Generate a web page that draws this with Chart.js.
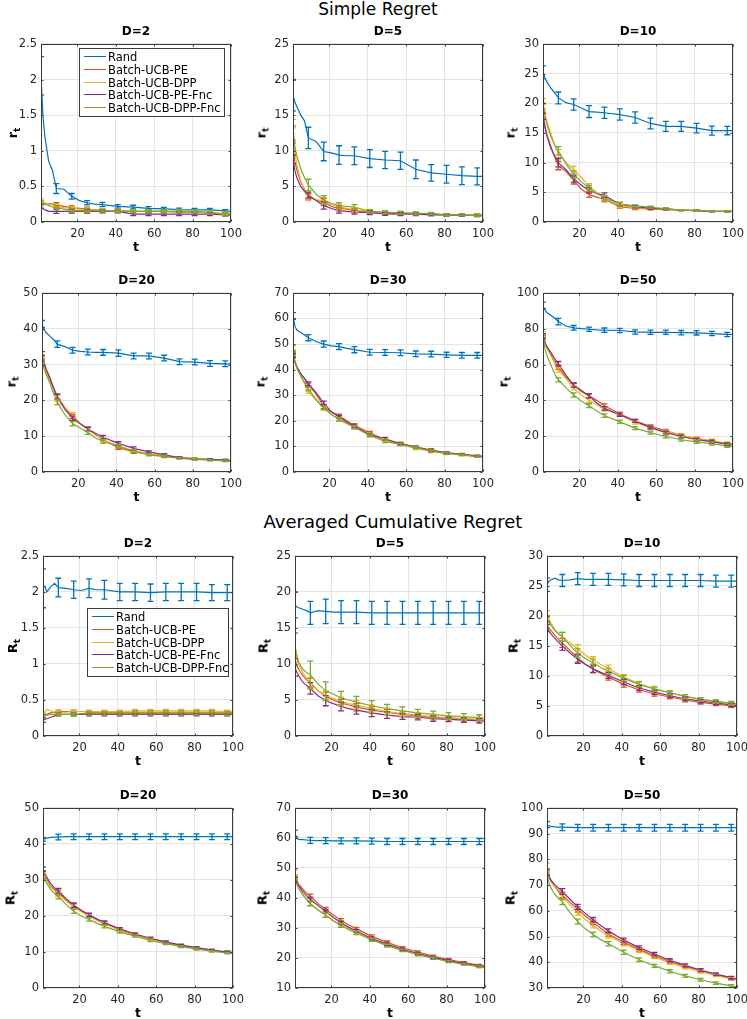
<!DOCTYPE html>
<html><head><meta charset="utf-8">
<script src="https://cdn.jsdelivr.net/npm/chart.js@4.4.1/dist/chart.umd.min.js"></script>
<style>
html,body{margin:0;padding:0;background:#fff;}
#fig{position:relative;width:747px;height:1019px;overflow:hidden;font-family:'DejaVu Sans',sans-serif;color:#000;}
.abs{position:absolute;white-space:nowrap;}
.ptitle{font-weight:bold;font-size:12px;line-height:12px;transform:translateX(-50%);}
.xlab{font-weight:bold;font-size:12.5px;line-height:12px;transform:translateX(-50%);}
.ylab{font-weight:bold;font-size:13px;line-height:13px;transform:translate(-50%,-50%) rotate(-90deg);}
.ylab sub{font-size:9px;vertical-align:-3px;line-height:0;}
.legend{position:absolute;background:#fff;border:1px solid #3c3c3c;box-sizing:border-box;font-size:11.5px;}
.lrow{position:absolute;left:4px;height:12px;line-height:12px;white-space:nowrap;}
.lline{display:inline-block;width:22px;height:0;border-top:1.3px solid;vertical-align:middle;margin-right:2px;position:relative;top:-1px;}
</style></head><body><div id="fig"></div>
<script>
// ---------------- data ----------------
const SERIES_NAMES = ['Rand','Batch-UCB-PE','Batch-UCB-DPP','Batch-UCB-PE-Fnc','Batch-UCB-DPP-Fnc'];
const T      = [1,2,3,5,7,9,13,17,21,25,29,33,41,49,57,65,73,81,89,97,100];
const ERR_T  = [1,9,17,25,33,41,49,57,65,73,81,89,97];
const X_TICKS = [20,40,60,80,100];

// Simple regret, D=2
const sr2_yTicks = [0,0.5,1,1.5,2,2.5];
const sr2_rand  = [2.05,1.5,1.2,0.85,0.72,0.47,0.46,0.36,0.30,0.27,0.25,0.245,0.22,0.21,0.19,0.185,0.175,0.17,0.17,0.155,0.15];
const sr2_pe    = [0.27,0.27,0.26,0.26,0.25,0.24,0.22,0.20,0.19,0.18,0.17,0.16,0.16,0.15,0.15,0.15,0.14,0.14,0.13,0.11,0.10];
const sr2_dpp   = [0.29,0.28,0.27,0.25,0.24,0.22,0.20,0.19,0.18,0.17,0.17,0.16,0.16,0.15,0.15,0.15,0.15,0.14,0.13,0.12,0.12];
const sr2_pef   = [0.22,0.19,0.17,0.15,0.15,0.15,0.15,0.15,0.15,0.15,0.15,0.15,0.15,0.11,0.11,0.11,0.11,0.11,0.11,0.10,0.10];
const sr2_dppf  = [0.27,0.26,0.25,0.23,0.21,0.20,0.18,0.16,0.16,0.16,0.16,0.16,0.15,0.15,0.15,0.15,0.15,0.15,0.14,0.10,0.10];
const sr2_eRand = [0.27,0.07,0.04,0.03,0.03,0.025,0.025,0.025,0.02,0.02,0.02,0.02,0.02];
const sr2_eAlg  = [0.03,0.03,0.03,0.03,0.02,0.02,0.02,0.02,0.02,0.02,0.02,0.02,0.02];

// Simple regret, D=5
const sr5_yTicks = [0,5,10,15,20,25];
const sr5_rand  = [17.8,16.8,16.2,15.0,14.2,11.8,11.3,9.9,9.7,9.4,9.3,9.3,8.9,8.7,8.6,7.4,6.9,6.7,6.5,6.4,6.4];
const sr5_pe    = [10.5,8.5,7.3,5.6,4.6,3.6,3.1,2.8,2.2,1.9,1.8,1.6,1.4,1.2,1.2,1.2,1.1,1.0,1.0,1.0,1.0];
const sr5_dpp   = [13.8,10.0,8.0,5.8,4.4,3.4,3.1,3.0,2.5,2.1,1.9,1.7,1.5,1.3,1.3,1.2,1.1,1.0,1.0,1.0,1.0];
const sr5_pef   = [8.8,7.2,6.2,5.0,4.3,3.8,3.0,2.3,1.9,1.6,1.5,1.4,1.3,1.15,1.1,1.1,1.0,1.0,0.95,0.9,0.9];
const sr5_dppf  = [12.5,10.5,9.3,7.5,6.2,5.2,3.9,3.1,2.6,2.3,2.2,2.1,1.5,1.4,1.3,1.2,1.2,1.0,1.0,0.9,0.9];
const sr5_eRand = [2.2,1.5,1.3,1.3,1.25,1.25,1.2,1.2,1.3,1.15,1.25,1.25,1.2];
const sr5_eAlg  = [0.6,0.4,0.5,0.35,0.3,0.25,0.2,0.2,0.2,0.15,0.15,0.15,0.15];
const sr5_eDppf = [1.0,0.8,0.6,0.4,0.35,0.25,0.2,0.2,0.2,0.15,0.15,0.15,0.15];

// Simple regret, D=10
const sr10_yTicks = [0,5,10,15,20,25,30];
const sr10_rand  = [25.2,24.3,23.6,22.6,21.8,20.9,20.1,19.8,19.2,18.6,18.5,18.4,18.1,17.6,16.6,16.1,16.1,15.8,15.4,15.4,15.4];
const sr10_pe    = [18.0,16.2,14.8,12.8,11.0,9.5,8.5,7.0,5.5,4.6,4.2,3.8,2.6,2.3,2.2,2.1,2.0,1.9,1.8,1.8,1.8];
const sr10_dpp   = [20.3,18.3,17.0,15.0,13.0,11.5,10.0,8.8,7.5,6.0,5.0,4.0,2.7,2.4,2.2,2.2,2.0,1.9,1.8,1.8,1.8];
const sr10_pef   = [17.8,16.0,14.5,12.5,11.2,10.0,8.8,7.3,6.2,5.3,4.8,4.5,3.0,2.6,2.3,2.2,2.0,1.9,1.8,1.8,1.8];
const sr10_dppf  = [19.5,17.8,16.5,14.5,13.0,12.0,9.8,8.0,6.8,5.7,4.8,4.1,3.0,2.7,2.5,2.2,2.0,1.9,1.8,1.8,1.8];
const sr10_eRand = [1.1,1.0,0.95,1.0,0.95,0.95,0.95,0.9,0.85,0.85,0.8,0.75,0.7];
const sr10_eAlg  = [0.5,0.7,0.6,0.45,0.4,0.3,0.2,0.15,0.15,0.1,0.1,0.1,0.1];

// Simple regret, D=20
const sr20_yTicks = [0,10,20,30,40,50];
const sr20_rand  = [41.3,40.0,39.0,38.0,37.0,35.7,35.0,34.0,33.7,33.5,33.4,33.4,33.2,32.4,32.4,31.8,30.8,30.7,30.3,30.2,30.2];
const sr20_pe    = [32,30,28.5,26.0,23.5,21.0,18.0,15.5,13.5,12.0,10.5,9.0,6.8,5.6,5.0,4.4,4.0,3.7,3.5,3.3,3.2];
const sr20_dpp   = [31,29.5,28.0,25.5,23.0,20.5,18.0,16.0,13.5,11.8,10.3,9.0,7.3,6.0,5.1,4.6,4.0,3.8,3.4,3.2,3.1];
const sr20_pef   = [33,31,29,26.5,23.5,21.0,17.5,15.0,13.5,12.0,10.8,9.7,8.0,6.6,5.6,4.8,4.0,3.6,3.5,3.3,3.2];
const sr20_dppf  = [31,29,27.5,25.0,22.0,19.5,16.0,13.5,12.3,11.0,9.5,8.5,7.2,5.8,4.8,4.3,3.8,3.5,3.3,3.1,3.0];
const sr20_eRand = [1.0,0.9,0.8,0.8,0.8,0.9,0.8,0.8,0.8,0.8,0.8,0.8,0.8];
const sr20_eAlg  = [0.6,0.7,0.6,0.5,0.5,0.45,0.4,0.3,0.3,0.2,0.2,0.2,0.2];

// Simple regret, D=30
const sr30_yTicks = [0,10,20,30,40,50,60,70];
const sr30_rand  = [61,57,55.5,54.5,53.5,52.5,51.0,50.0,49.3,49.0,48.3,47.8,46.8,46.7,46.6,46.2,46.1,45.8,45.6,45.6,45.6];
const sr30_pe    = [46.5,43,41,38.5,36.5,34.0,30.5,25.5,23.5,22.0,20.0,18.3,15.3,12.5,11.2,9.7,8.7,7.5,7.0,6.3,6.2];
const sr30_dpp   = [48.5,44,41,37.5,34.5,31.5,28.0,25.0,22.5,20.5,19.0,17.5,14.8,12.5,10.8,9.2,8.0,7.2,6.6,6.0,5.9];
const sr30_pef   = [45.5,43,41,38.5,36.5,34.5,31.0,27.0,23.5,21.5,19.5,17.8,14.5,13.0,11.0,9.7,8.3,7.5,6.8,6.2,6.0];
const sr30_dppf  = [46,43,40.5,37.5,35.0,32.5,28.5,25.0,22.5,20.5,19.0,17.5,14.3,12.0,10.8,9.5,8.2,7.3,6.7,6.0,5.9];
const sr30_eRand = [1.3,1.2,1.2,1.2,1.2,1.1,1.1,1.1,1.1,1.1,1.0,1.1,1.1];
const sr30_eAlg  = [0.8,0.75,0.7,0.6,0.6,0.6,0.5,0.5,0.4,0.4,0.4,0.3,0.3];

// Simple regret, D=50
const sr50_yTicks = [0,20,40,60,80,100];
const sr50_rand  = [93,90.5,89,87.5,86,84,81.5,80.5,80.0,79.7,79.4,79.2,79.0,78.2,78.0,78.0,77.8,77.7,77.3,76.8,76.8];
const sr50_pe    = [76,72,70,66,62,58.5,53,48.5,45,42.5,40,37,32.5,28.5,25.5,23.0,20.5,18.5,17.0,15.5,15.2];
const sr50_dpp   = [77,72,69,65,61,57,52,47,43,40,37.5,35,32,27.5,25,22.5,20.5,18.8,17.5,16.0,15.7];
const sr50_pef   = [76,72.5,70,67,63.5,60.5,54,48.5,45.5,42.5,38.5,35.5,32,28.5,24.8,22.0,19.8,18.0,17.0,15.5,15.2];
const sr50_dppf  = [75,69,65,60,55,51.5,47,43,39.5,37,34,31.5,28,24.5,22,19.8,18,16.8,15.8,14.5,14.3];
const sr50_eRand = [1.8,1.8,1.3,1.2,1.2,1.2,1.2,1.2,1.2,1.2,1.2,1.2,1.2];
const sr50_eAlg  = [1.2,1.2,1.2,1.1,1.0,0.9,0.8,0.8,0.8,0.8,0.8,0.8,0.8];

// Averaged cumulative regret, D=2
const acr2_yTicks = [0,0.5,1,1.5,2,2.5];
const acr2_rand  = [2.05,2.08,2.0,2.07,2.12,2.06,2.05,2.03,2.02,2.05,2.03,2.03,2.0,2.0,1.99,2.0,2.0,2.0,1.99,1.99,1.99];
const acr2_pe    = [0.28,0.29,0.30,0.32,0.33,0.34,0.34,0.34,0.34,0.33,0.33,0.33,0.33,0.33,0.33,0.33,0.33,0.33,0.33,0.33,0.33];
const acr2_dpp   = [0.28,0.34,0.37,0.35,0.33,0.33,0.33,0.34,0.34,0.34,0.34,0.34,0.34,0.35,0.35,0.35,0.35,0.35,0.35,0.34,0.34];
const acr2_pef   = [0.22,0.23,0.24,0.26,0.28,0.30,0.30,0.30,0.30,0.30,0.30,0.30,0.30,0.30,0.30,0.30,0.30,0.30,0.30,0.30,0.30];
const acr2_dppf  = [0.27,0.28,0.29,0.30,0.30,0.30,0.30,0.30,0.31,0.31,0.31,0.31,0.31,0.31,0.31,0.31,0.31,0.31,0.31,0.31,0.31];
const acr2_eRand = [0.27,0.13,0.12,0.13,0.13,0.12,0.12,0.12,0.12,0.12,0.12,0.11,0.11];
const acr2_eAlg  = [0.03,0.02,0.02,0.02,0.02,0.02,0.02,0.02,0.02,0.02,0.02,0.02,0.02];

// Averaged cumulative regret, D=5
const acr5_yTicks = [0,5,10,15,20,25];
const acr5_rand  = [18.2,17.9,17.8,17.6,17.4,17.1,17.4,17.3,17.2,17.2,17.2,17.2,17.1,17.1,17.1,17.1,17.1,17.1,17.1,17.1,17.1];
const acr5_pe    = [10.5,9.8,9.2,8.4,7.8,7.4,6.3,5.5,5.0,4.6,4.3,4.0,3.6,3.3,3.0,2.8,2.6,2.5,2.35,2.25,2.2];
const acr5_dpp   = [12.8,11.0,10.0,8.8,8.0,7.3,6.3,5.6,5.2,4.8,4.5,4.3,3.8,3.4,3.1,2.9,2.7,2.55,2.4,2.3,2.25];
const acr5_pef   = [9.5,8.8,8.3,7.5,7.0,6.6,5.6,4.9,4.5,4.1,3.8,3.6,3.2,2.9,2.7,2.6,2.4,2.3,2.2,2.1,2.05];
const acr5_dppf  = [12.3,11.0,10.2,9.3,8.8,8.5,7.2,6.3,5.8,5.3,5.0,4.7,4.2,3.8,3.5,3.2,3.0,2.8,2.7,2.55,2.5];
const acr5_eRand = [1.8,1.6,1.7,1.6,1.6,1.6,1.6,1.6,1.6,1.6,1.6,1.6,1.6];
const acr5_ePe   = [0.8,0.6,0.6,0.5,0.5,0.45,0.4,0.35,0.35,0.3,0.3,0.3,0.3];
const acr5_eDpp  = [1.5,0.8,0.7,0.6,0.6,0.5,0.45,0.4,0.35,0.35,0.3,0.3,0.3];
const acr5_ePef  = [1.2,0.8,0.7,0.6,0.55,0.5,0.45,0.4,0.35,0.35,0.3,0.3,0.3];
const acr5_eDppf = [2.0,1.9,1.2,0.9,0.8,0.7,0.6,0.55,0.5,0.45,0.45,0.4,0.4];

// Averaged cumulative regret, D=10
const acr10_yTicks = [0,5,10,15,20,25,30];
const acr10_rand  = [25.2,25.8,26.0,26.3,26.0,25.9,26.0,26.2,26.1,26.1,26.1,26.1,26.0,25.9,25.9,25.9,25.9,25.9,25.8,25.8,25.8];
const acr10_pe    = [18.5,18.0,17.6,16.8,16.1,15.5,14.2,13.0,12.0,11.1,10.4,9.8,8.6,7.7,7.0,6.5,6.0,5.6,5.3,5.0,4.95];
const acr10_dpp   = [20.3,19.5,18.8,17.8,17.1,16.5,15.5,14.5,13.5,12.6,11.9,11.3,9.8,8.7,7.9,7.2,6.6,6.1,5.7,5.4,5.3];
const acr10_pef   = [18.0,17.5,17.0,16.3,15.6,15.0,13.8,12.8,11.9,11.2,10.6,10.1,9.0,8.0,7.3,6.7,6.2,5.8,5.5,5.2,5.1];
const acr10_dppf  = [19.5,19.0,18.5,17.6,17.0,16.5,15.1,13.8,12.9,12.2,11.4,10.8,9.6,8.6,7.8,7.2,6.6,6.1,5.8,5.5,5.4];
const acr10_eRand = [1.1,1.0,1.0,1.0,1.0,1.0,1.0,1.0,1.0,1.0,1.0,1.0,1.0];
const acr10_eAlg  = [0.6,0.75,0.7,0.6,0.5,0.45,0.4,0.35,0.3,0.3,0.3,0.25,0.25];

// Averaged cumulative regret, D=20
const acr20_yTicks = [0,10,20,30,40,50];
const acr20_rand  = [41.3,41.4,41.6,41.8,41.9,41.9,42.0,42.0,42.0,42.0,42.0,42.0,42.0,42.0,42.0,42.0,42.0,42.0,42.0,42.0,42.0];
const acr20_pe    = [32,31,30,28.3,27.3,26.5,24.5,22.8,21.4,20.2,19.0,18.0,16.2,14.8,13.6,12.6,11.8,11.1,10.5,10.0,9.9];
const acr20_dpp   = [31.5,30.6,29.7,28.0,27.0,26.0,24.2,22.5,21.1,20.0,18.8,17.8,16.0,14.6,13.5,12.5,11.7,11.0,10.4,9.9,9.8];
const acr20_pef   = [33,31.8,30.7,29.0,27.8,27.0,24.8,23.0,21.6,20.3,19.2,18.2,16.4,15.0,13.8,12.8,11.9,11.2,10.5,10.0,9.9];
const acr20_dppf  = [31,30,29,27.3,26.2,25.4,23.2,21.3,20.0,19.0,18.0,17.1,15.6,14.4,13.2,12.3,11.5,10.8,10.2,9.7,9.6];
const acr20_eRand = [0.5,0.8,0.8,0.8,0.8,0.8,0.8,0.8,0.8,0.8,0.8,0.8,0.8];
const acr20_eAlg  = [0.6,0.65,0.6,0.45,0.4,0.35,0.3,0.3,0.25,0.25,0.25,0.2,0.2];

// Averaged cumulative regret, D=30
const acr30_yTicks = [10,20,30,40,50,60,70];
const acr30_rand  = [61.5,59.8,59.5,59.4,59.3,59.2,59.1,59.1,59.0,59.0,59.0,59.0,58.9,58.8,58.8,58.8,58.8,58.8,58.8,58.8,58.8];
const acr30_pe    = [46.5,45.5,44.5,43.0,41.6,40.5,38.2,36.2,34.3,32.5,31.0,29.7,27.2,25.2,23.4,22.0,20.6,19.5,18.5,17.6,17.3];
const acr30_dpp   = [48.5,46,44,41.5,39.5,38.0,36.0,34.3,32.5,31.0,29.7,28.5,26.2,24.3,22.6,21.2,19.9,18.9,18.0,17.1,16.8];
const acr30_pef   = [46,45,44,42.3,40.8,39.5,37.5,35.5,33.5,31.7,30.2,29.0,26.5,24.6,22.9,21.5,20.2,19.1,18.2,17.3,17.0];
const acr30_dppf  = [45.5,44.3,43,41,39.5,38.2,36.0,34.2,32.3,30.8,29.4,28.3,26.0,24.1,22.5,21.1,19.9,18.8,17.9,17.1,16.8];
const acr30_eRand = [1.1,1.0,1.0,1.0,1.0,1.0,1.0,1.0,1.0,1.0,1.0,1.0,1.0];
const acr30_eAlg  = [0.8,0.75,0.65,0.6,0.5,0.5,0.45,0.4,0.4,0.35,0.35,0.3,0.3];

// Averaged cumulative regret, D=50
const acr50_yTicks = [30,40,50,60,70,80,90,100];
const acr50_rand  = [93.5,93.0,92.8,92.6,92.5,92.5,92.4,92.3,92.3,92.3,92.3,92.3,92.3,92.3,92.3,92.3,92.3,92.3,92.3,92.3,92.3];
const acr50_pe    = [75,73,71.5,69.5,67.8,66.2,63.3,60.5,58,55.5,53.2,51.0,47.8,45.0,42.5,40.3,38.4,36.7,35.1,33.8,33.3];
const acr50_dpp   = [77.5,74,72,69.5,67.2,65.5,62.2,59.3,56.6,54.3,52.2,50.3,47.2,44.5,42.0,39.8,38.0,36.3,34.9,33.5,33.0];
const acr50_pef   = [75,73.5,72,70.2,68.8,67.5,64.5,61.5,59.0,56.5,54.3,52.2,48.6,45.7,43.2,40.8,38.8,37.0,35.4,34.0,33.5];
const acr50_dppf  = [74,71,69,66.5,64.8,63.5,59.3,55.8,53.0,50.8,48.8,47.2,43.9,41.0,38.6,36.5,34.7,33.2,31.9,30.8,30.4];
const acr50_eRand = [1.2,1.3,1.3,1.3,1.3,1.3,1.3,1.3,1.3,1.3,1.3,1.3,1.3];
const acr50_eAlg  = [1.0,1.1,1.0,0.9,0.8,0.8,0.7,0.6,0.6,0.6,0.5,0.5,0.5];

// ---------------- styling / layout ----------------
const COLORS = ['#0072BD','#D95319','#EDB120','#7E2F8E','#77AC30'];
const GRID = '#e4e4e4', FRAME = '#3a3a3a', TICKC = '#262626';
const FONT = "'DejaVu Sans', sans-serif";

const PANELS = [
  {title:'D=2',  yl:'r', left:41,  top:43,  w:190, h:179, yOff:29, yTicks:sr2_yTicks,  series:[sr2_rand,sr2_pe,sr2_dpp,sr2_pef,sr2_dppf],  errs:[sr2_eRand,sr2_eAlg,sr2_eAlg,sr2_eAlg,sr2_eAlg], legend:{left:79, top:48, w:146, h:69}},
  {title:'D=5',  yl:'r', left:293, top:43,  w:190, h:179, yOff:32, yTicks:sr5_yTicks,  series:[sr5_rand,sr5_pe,sr5_dpp,sr5_pef,sr5_dppf],  errs:[sr5_eRand,sr5_eAlg,sr5_eAlg,sr5_eAlg,sr5_eDppf]},
  {title:'D=10', yl:'r', left:543, top:43,  w:190, h:179, yOff:33, yTicks:sr10_yTicks, series:[sr10_rand,sr10_pe,sr10_dpp,sr10_pef,sr10_dppf], errs:[sr10_eRand,sr10_eAlg,sr10_eAlg,sr10_eAlg,sr10_eAlg]},
  {title:'D=20', yl:'r', left:42,  top:292, w:189, h:180, yOff:31, yTicks:sr20_yTicks, series:[sr20_rand,sr20_pe,sr20_dpp,sr20_pef,sr20_dppf], errs:[sr20_eRand,sr20_eAlg,sr20_eAlg,sr20_eAlg,sr20_eAlg]},
  {title:'D=30', yl:'r', left:293, top:292, w:190, h:180, yOff:33, yTicks:sr30_yTicks, series:[sr30_rand,sr30_pe,sr30_dpp,sr30_pef,sr30_dppf], errs:[sr30_eRand,sr30_eAlg,sr30_eAlg,sr30_eAlg,sr30_eAlg]},
  {title:'D=50', yl:'r', left:543, top:292, w:190, h:180, yOff:40, yTicks:sr50_yTicks, series:[sr50_rand,sr50_pe,sr50_dpp,sr50_pef,sr50_dppf], errs:[sr50_eRand,sr50_eAlg,sr50_eAlg,sr50_eAlg,sr50_eAlg]},
  {title:'D=2',  yl:'R', left:43,  top:555, w:190, h:181, yOff:31, yTicks:acr2_yTicks, series:[acr2_rand,acr2_pe,acr2_dpp,acr2_pef,acr2_dppf], errs:[acr2_eRand,acr2_eAlg,acr2_eAlg,acr2_eAlg,acr2_eAlg], legend:{left:87, top:608, w:142, h:69}},
  {title:'D=5',  yl:'R', left:295, top:555, w:190, h:181, yOff:32, yTicks:acr5_yTicks, series:[acr5_rand,acr5_pe,acr5_dpp,acr5_pef,acr5_dppf], errs:[acr5_eRand,acr5_ePe,acr5_eDpp,acr5_ePef,acr5_eDppf]},
  {title:'D=10', yl:'R', left:547, top:555, w:190, h:181, yOff:34, yTicks:acr10_yTicks, series:[acr10_rand,acr10_pe,acr10_dpp,acr10_pef,acr10_dppf], errs:[acr10_eRand,acr10_eAlg,acr10_eAlg,acr10_eAlg,acr10_eAlg]},
  {title:'D=20', yl:'R', left:43,  top:807, w:190, h:181, yOff:33, yTicks:acr20_yTicks, series:[acr20_rand,acr20_pe,acr20_dpp,acr20_pef,acr20_dppf], errs:[acr20_eRand,acr20_eAlg,acr20_eAlg,acr20_eAlg,acr20_eAlg]},
  {title:'D=30', yl:'R', left:295, top:807, w:190, h:181, yOff:33, yTicks:acr30_yTicks, series:[acr30_rand,acr30_pe,acr30_dpp,acr30_pef,acr30_dppf], errs:[acr30_eRand,acr30_eAlg,acr30_eAlg,acr30_eAlg,acr30_eAlg]},
  {title:'D=50', yl:'R', left:547, top:807, w:190, h:181, yOff:37, yTicks:acr50_yTicks, series:[acr50_rand,acr50_pe,acr50_dpp,acr50_pef,acr50_dppf], errs:[acr50_eRand,acr50_eAlg,acr50_eAlg,acr50_eAlg,acr50_eAlg]}
];

const fig = document.getElementById('fig');
function addText(cls, html, left, top, extra) {
  const d = document.createElement('div');
  d.className = 'abs ' + cls;
  d.innerHTML = html;
  d.style.left = left + 'px'; d.style.top = top + 'px';
  if (extra) Object.assign(d.style, extra);
  fig.appendChild(d);
  return d;
}

// super titles
addText('', 'Simple Regret', 378, 1, {fontSize:'17px', lineHeight:'17px', transform:'translateX(-50%)'});
addText('', 'Averaged Cumulative Regret', 393, 513, {fontSize:'18px', lineHeight:'18px', transform:'translateX(-50%)'});

const errPlugin = {
  id: 'errbars',
  afterDatasetsDraw(chart) {
    const {ctx, chartArea: a, scales: {x, y}} = chart;
    ctx.save();
    ctx.beginPath(); ctx.rect(a.left, a.top, a.right - a.left, a.bottom - a.top); ctx.clip();
    chart.data.datasets.forEach(ds => {
      ctx.strokeStyle = ds.borderColor; ctx.lineWidth = 1.3;
      ctx.beginPath();
      ERR_T.forEach((t, j) => {
        const k = T.indexOf(t);
        const v = ds.data[k].y, e = ds.errs[j];
        const px = x.getPixelForValue(t);
        const p1 = y.getPixelForValue(v - e), p2 = y.getPixelForValue(v + e);
        ctx.moveTo(px, p1); ctx.lineTo(px, p2);
        ctx.moveTo(px - 3, p1); ctx.lineTo(px + 3, p1);
        ctx.moveTo(px - 3, p2); ctx.lineTo(px + 3, p2);
      });
      ctx.stroke();
    });
    ctx.restore();
  }
};
const framePlugin = {
  id: 'frame',
  afterDraw(chart) {
    const {ctx, chartArea: a, scales: {x, y}} = chart;
    const L = Math.round(a.left) + 0.5, R = Math.round(a.right) - 0.5;
    const Tp = Math.round(a.top) + 0.5, B = Math.round(a.bottom) - 0.5;
    ctx.save();
    ctx.strokeStyle = FRAME; ctx.lineWidth = 1;
    ctx.strokeRect(L, Tp, R - L, B - Tp);
    ctx.beginPath();
    x.ticks.forEach(tk => { const p = Math.round(x.getPixelForValue(tk.value)) + 0.5; ctx.moveTo(p, B); ctx.lineTo(p, B - 2); ctx.moveTo(p, Tp); ctx.lineTo(p, Tp + 2); });
    y.ticks.forEach(tk => { const p = Math.round(y.getPixelForValue(tk.value)) + 0.5; ctx.moveTo(L, p); ctx.lineTo(L + 2, p); ctx.moveTo(R, p); ctx.lineTo(R - 2, p); });
    ctx.stroke();
    ctx.restore();
  }
};

function makePanel(p) {
  const PADL = 40, PADT = 10, PADR = 18, PADB = 22;
  const cw = PADL + p.w + PADR, ch = PADT + p.h + PADB;
  const canvas = document.createElement('canvas');
  canvas.width = cw; canvas.height = ch;
  canvas.style.cssText = `position:absolute;left:${p.left - PADL}px;top:${p.top - PADT}px;width:${cw}px;height:${ch}px;`;
  fig.appendChild(canvas);
  const datasets = p.series.map((vals, i) => ({
    label: SERIES_NAMES[i],
    data: T.map((t, k) => ({x: t, y: vals[k]})),
    errs: p.errs[i],
    borderColor: COLORS[i], backgroundColor: COLORS[i],
    borderWidth: 1.2, pointRadius: 0, pointHoverRadius: 0, tension: 0, fill: false, order: 4 - i
  }));
  const tickFont = {family: FONT, size: 11.5};
  new Chart(canvas, {
    type: 'line',
    data: {datasets},
    options: {
      responsive: false, animation: false, devicePixelRatio: 1, events: [],
      layout: {padding: {left: 0, top: PADT, right: PADR, bottom: 0}},
      plugins: {legend: {display: false}, tooltip: {enabled: false}, title: {display: false}},
      scales: {
        x: {
          type: 'linear', min: 1, max: 100,
          afterBuildTicks: s => { s.ticks = X_TICKS.map(v => ({value: v})); },
          afterFit: s => { s.height = PADB; },
          grid: {color: GRID, drawTicks: false, lineWidth: 1},
          border: {display: false},
          ticks: {font: tickFont, color: TICKC, padding: 5, maxRotation: 0, autoSkip: false, callback: v => String(v)}
        },
        y: {
          type: 'linear', min: p.yTicks[0], max: p.yTicks[p.yTicks.length - 1],
          afterBuildTicks: s => { s.ticks = p.yTicks.map(v => ({value: v})); },
          afterFit: s => { s.width = PADL; },
          grid: {color: GRID, drawTicks: false, lineWidth: 1},
          border: {display: false},
          ticks: {font: tickFont, color: TICKC, padding: 4, autoSkip: false, callback: v => String(v)}
        }
      }
    },
    plugins: [errPlugin, framePlugin]
  });
  // texts
  const cx = p.left + p.w / 2;
  addText('ptitle', p.title, cx, p.top - 18);
  addText('xlab', 't', cx, p.top + p.h + 19);
  addText('ylab', p.yl + '<sub>t</sub>', p.left - p.yOff, p.top + p.h / 2);
  if (p.legend) {
    const lg = document.createElement('div');
    lg.className = 'legend';
    Object.assign(lg.style, {left: p.legend.left + 'px', top: p.legend.top + 'px', width: p.legend.w + 'px', height: p.legend.h + 'px'});
    SERIES_NAMES.forEach((n, i) => {
      const r = document.createElement('div');
      r.className = 'lrow';
      r.style.top = (2 + i * 12.8) + 'px';
      r.innerHTML = `<span class="lline" style="border-top-color:${COLORS[i]}"></span>${n}`;
      lg.appendChild(r);
    });
    fig.appendChild(lg);
  }
}
PANELS.forEach(makePanel);
</script></body></html>
